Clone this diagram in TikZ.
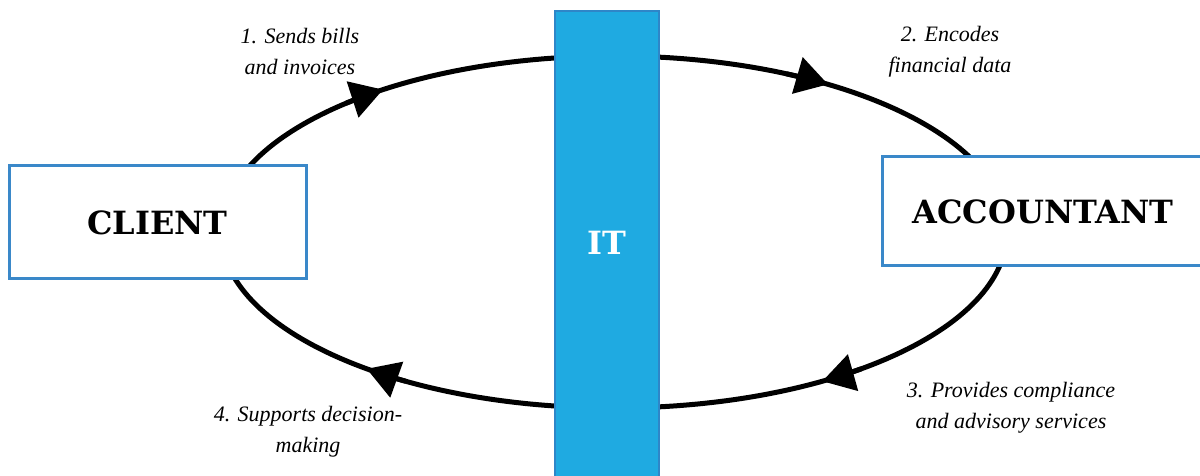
\documentclass[tikz,border=0pt]{standalone}
\usepackage{fontspec}
\setmainfont{Liberation Serif}
\newfontfamily\slabfont{DejaVu Serif}[BoldFont={DejaVu Serif Bold}]
\usetikzlibrary{arrows.meta,calc}
\definecolor{itblue}{HTML}{1FAAE1}
\definecolor{itedge}{HTML}{2E86C8}
\definecolor{boxedge}{HTML}{3A88C9}
\tikzset{
  actor/.style={draw=boxedge, line width=3pt, fill=white, inner sep=0pt},
  slabtext/.style={inner sep=0pt, font=\slabfont\bfseries\fontsize{32}{40}\selectfont},
  lbl/.style={align=center, font=\itshape\fontsize{22}{31}\selectfont, inner sep=0pt},
  loop/.style={line width=5pt, draw=black},
  tip/.style={line width=5pt, -{Triangle[length=32pt,width=37pt]}},
}
\begin{document}
\begin{tikzpicture}[x=1pt,y=1pt]
\useasboundingbox (0,0) rectangle (1200,476);
\coordinate (c) at (614,244);
% loop
\draw[loop] (c) ellipse [x radius=393pt, y radius=176pt];
\foreach \t in {128,59,-56,-127}{
  \draw[tip] ($(c)+(\t+5:393pt and 176pt)$) arc[start angle=\t+5, end angle=\t-2, x radius=393pt, y radius=176pt];
}
% nodes
\node[actor, slabtext, minimum width=297pt, minimum height=113pt] (client) at (157.5,253.5) {CLIENT};
\draw[actor] (882,210) rectangle (1215,319);
\node[slabtext] (acc) at (1043,264.5) {ACCOUNTANT};
\node[draw=itedge, line width=2pt, fill=itblue, minimum width=104pt, minimum height=480pt, inner sep=0pt] (it) at (606.5,225) {};
\node[slabtext, text=white] (itl) at (607,233) {IT};
% labels
\node[lbl] (l1) at (300,425) {1. Sends bills\\and invoices};
\node[lbl] (l2) at (950,424) {2. Encodes\\financial data};
\node[lbl] (l3) at (1011,68) {3. Provides compliance\\and advisory services};
\node[lbl] (l4) at (308,44) {4. Supports decision-\\making};
\end{tikzpicture}
\end{document}
